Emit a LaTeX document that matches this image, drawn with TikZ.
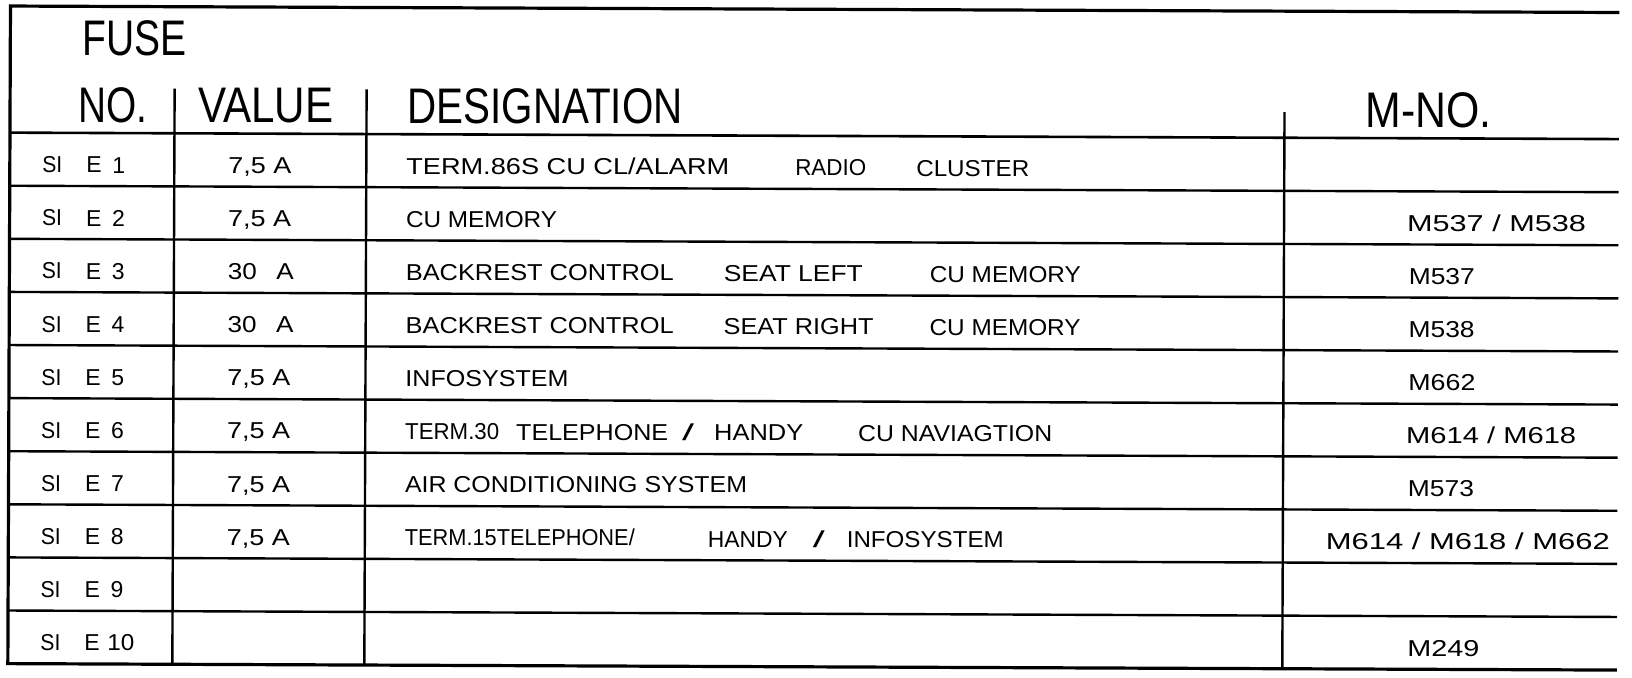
\documentclass[tikz,border=0pt]{standalone}
\usepackage{fontspec}
\setmainfont{Liberation Sans}
\usepackage{graphicx}
\newdimen\pxu \pxu=0.5pt
\newcommand\rowfont{\fontsize{11.5}{12}\selectfont}
\newcommand\hdrfont{\fontsize{25}{26}\selectfont}
\newcommand\tx[5]{\node[txt] (#1) at (#2,#3) {\resizebox{#4\pxu}{\height}{#5}};}
\newcommand\hx[5]{\node[hdr] (#1) at (#2,#3) {\resizebox{#4\pxu}{\height}{#5}};}
\begin{document}
\begin{tikzpicture}[x=0.5pt,y=-0.5pt,
  frame/.style={line width=1.6pt, line join=miter},
  rule/.style={line width=1.2pt},
  txt/.style={anchor=base west, inner sep=0pt, outer sep=0pt, font=\rowfont},
  hdr/.style={anchor=base west, inner sep=0pt, outer sep=0pt, font=\hdrfont}]
\useasboundingbox[fill=white] (0,0) rectangle (1632,678);
\begin{scope}[rotate=-0.23]
% frame
\draw[frame] (1619.5,6) -- (10.5,6) -- (10.5,663.6) -- (1619.5,663.6);
% header rule and row rules
\draw[line width=1.3pt] (10.5,132.6) -- (1619.5,132.6);
\foreach \k in {1,...,9}{
  \pgfmathsetmacro\yy{132.6+53.1*\k}
  \draw[rule] (10.5,\yy) -- (1619.5,\yy);
}
% column rules
\draw[rule] (175,88) -- (175,663.6);
\draw[rule] (367,88) -- (367,663.6);
\draw[rule] (1285,107) -- (1285,663.6);
% header texts
\hx{hfuse}{83}{55}{104}{FUSE}
\hx{hno}{79}{122}{69}{NO.}
\hx{hval}{199}{122}{135}{VALUE}
\hx{hdes}{408}{122}{275}{DESIGNATION}
\hx{hmno}{1366}{122}{126}{M-NO.}
% fuse numbers
\foreach \k in {1,...,10}{
  \pgfmathsetmacro\yb{172.6+53.1*(\k-1)}
  \node[txt] (si\k) at (43,\yb) {\resizebox{20\pxu}{\height}{SI}};
  \node[txt] (e\k) at (87,\yb) {E};
}
\foreach \k in {1,...,9}{
  \pgfmathsetmacro\yb{172.6+53.1*(\k-1)}
  \node[txt] (num\k) at (113,\yb) {\k};
}
\tx{num10}{110}{650.5}{27}{10}
% values
\tx{v1}{229}{172.6}{63}{7,5 A}
\tx{v2}{229}{225.7}{63}{7,5 A}
\tx{v3}{229}{278.8}{66}{30\hspace{0.75em}A}
\tx{v4}{229}{331.9}{66}{30\hspace{0.75em}A}
\tx{v5}{229}{385.0}{63}{7,5 A}
\tx{v6}{229}{438.1}{63}{7,5 A}
\tx{v7}{229}{491.2}{63}{7,5 A}
\tx{v8}{229}{544.3}{63}{7,5 A}
% designations
\tx{d1a}{407}{172.6}{323}{TERM.86S CU CL/ALARM}
\tx{d1b}{796}{172.6}{71}{RADIO}
\tx{d1c}{917}{172.6}{113}{CLUSTER}
\tx{d2a}{407}{225.7}{151}{CU MEMORY}
\tx{d3a}{407}{278.8}{268}{BACKREST CONTROL}
\tx{d3b}{725}{278.8}{139}{SEAT LEFT}
\tx{d3c}{931}{278.8}{151}{CU MEMORY}
\tx{d4a}{407}{331.9}{268}{BACKREST CONTROL}
\tx{d4b}{725}{331.9}{150}{SEAT RIGHT}
\tx{d4c}{931}{331.9}{151}{CU MEMORY}
\tx{d5a}{407}{385.0}{163}{INFOSYSTEM}
\tx{d6a}{407}{438.1}{94}{TERM.30}
\tx{d6b}{518}{438.1}{152}{TELEPHONE}
\tx{d6c}{684}{438.1}{12}{/}
\tx{d6d}{716}{438.1}{89}{HANDY}
\tx{d6e}{860}{438.1}{194}{CU NAVIAGTION}
\tx{d7a}{407}{491.2}{342}{AIR CONDITIONING SYSTEM}
\tx{d8a}{407}{544.3}{230}{TERM.15TELEPHONE/}
\tx{d8b}{710}{544.3}{80}{HANDY}
\tx{d8c}{815}{544.3}{12}{/}
\tx{d8d}{849}{544.3}{157}{INFOSYSTEM}
% M numbers
\tx{m2}{1408}{225.7}{179}{M537 / M538}
\tx{m3}{1410}{278.8}{66}{M537}
\tx{m4}{1410}{331.9}{66}{M538}
\tx{m5}{1410}{385.0}{67}{M662}
\tx{m6}{1408}{438.1}{170}{M614 / M618}
\tx{m7}{1410}{491.2}{66}{M573}
\tx{m8}{1328}{544.3}{284}{M614 / M618 / M662}
\tx{m10}{1410}{650.5}{72}{M249}
\end{scope}
\end{tikzpicture}
\end{document}
